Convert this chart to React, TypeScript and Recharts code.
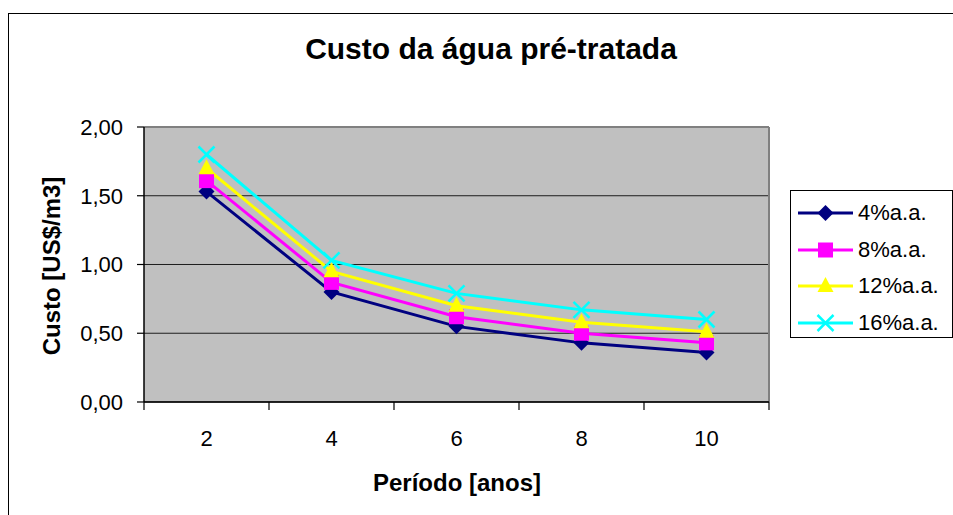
import React from "react";
import { LineChart, Line, XAxis, YAxis, CartesianGrid, ReferenceLine } from "recharts";

const periods = [2, 4, 6, 8, 10];
const cost4 = [1.53, 0.8, 0.55, 0.43, 0.36];
const cost8 = [1.61, 0.87, 0.62, 0.5, 0.43];
const cost12 = [1.7, 0.95, 0.7, 0.58, 0.51];
const cost16 = [1.8, 1.03, 0.79, 0.67, 0.6];
const yTicks = [0, 0.5, 1, 1.5, 2];
const xTicks = [1, 2, 3, 4, 5, 6, 7, 8, 9, 10, 11];

const FONT = "'Liberation Sans', Arial, sans-serif";

const series = [
  { key: "c4", name: "4%a.a.", color: "#000080", marker: "diamond" },
  { key: "c8", name: "8%a.a.", color: "#FF00FF", marker: "square" },
  { key: "c12", name: "12%a.a.", color: "#FFFF00", marker: "triangle" },
  { key: "c16", name: "16%a.a.", color: "#00FFFF", marker: "x" },
];

const data = periods.map((p, i) => ({
  period: p,
  c4: cost4[i],
  c8: cost8[i],
  c12: cost12[i],
  c16: cost16[i],
}));

function Marker({ type, cx, cy, color }: { type: string; cx: number; cy: number; color: string }) {
  if (cx == null || cy == null) return null;
  if (type === "diamond") {
    return <polygon points={`${cx},${cy - 8} ${cx + 8},${cy} ${cx},${cy + 8} ${cx - 8},${cy}`} fill={color} />;
  }
  if (type === "square") {
    return <rect x={cx - 7.5} y={cy - 7.5} width={15} height={15} fill={color} />;
  }
  if (type === "triangle") {
    return <polygon points={`${cx},${cy - 9} ${cx + 8},${cy + 6} ${cx - 8},${cy + 6}`} fill={color} />;
  }
  return (
    <g stroke={color} strokeWidth={2.5}>
      <line x1={cx - 8} y1={cy - 8} x2={cx + 8} y2={cy + 8} />
      <line x1={cx - 8} y1={cy + 8} x2={cx + 8} y2={cy - 8} />
    </g>
  );
}

function XTick(props: any) {
  const { x, y, payload } = props;
  if (payload.value % 2 === 1) {
    return <line x1={x} y1={y} x2={x} y2={y + 8} stroke="#000" strokeWidth={1.2} />;
  }
  return (
    <text x={x} y={y + 44} textAnchor="middle" fontSize={22} fill="#000" fontFamily={FONT}>
      {payload.value}
    </text>
  );
}

function LegendBox() {
  return (
    <div style={{ position: "absolute", left: 790, top: 190, border: "1.5px solid #000", width: 163, height: 148, boxSizing: "border-box", paddingTop: 4, fontFamily: FONT, background: "#fff" }}>
      {series.map((s) => (
        <div key={s.key} style={{ display: "flex", alignItems: "center", height: 36.5 }}>
          <svg width={66} height={24} style={{ flex: "none" }}>
            <line x1={7} y1={12} x2={62} y2={12} stroke={s.color} strokeWidth={3} />
            <Marker type={s.marker} cx={34.5} cy={12} color={s.color} />
          </svg>
          <span style={{ fontSize: 22, color: "#000", marginLeft: 1 }}>{s.name}</span>
        </div>
      ))}
    </div>
  );
}

export default function App() {
  return (
    <div style={{ position: "absolute", left: 0, top: 0, width: 953, height: 515, background: "#fff", overflow: "hidden", fontFamily: FONT }}>
      <div style={{ position: "absolute", left: 8, top: 13, width: 1000, height: 600, border: "1.5px solid #000", boxSizing: "border-box" }} />
      <div style={{ position: "absolute", left: 0, top: 32, width: 982, textAlign: "center", fontSize: 30, fontWeight: "bold", color: "#000" }}>
        Custo da água pré-tratada
      </div>
      <div style={{ position: "absolute", left: 0, top: 0 }}>
        <LineChart width={953} height={515} data={data} margin={{ top: 127, right: 184, bottom: 113, left: 0 }}>
          <CartesianGrid fill="#C0C0C0" vertical={false} stroke="#000" strokeOpacity={0.85} />
          <XAxis
            dataKey="period"
            type="number"
            domain={[1, 11]}
            ticks={xTicks}
            interval={0}
            height={0.01}
            tickSize={0}
            tickMargin={0}
            tickLine={false}
            axisLine={{ stroke: "#000", strokeWidth: 1.5 }}
            tick={<XTick />}
            label={{
              content: () => (
                <text x={457} y={491} textAnchor="middle" fontSize={24} fontWeight="bold" fill="#000" fontFamily={FONT}>
                  Período [anos]
                </text>
              ),
            }}
          />
          <YAxis
            width={144}
            domain={[0, 2]}
            ticks={yTicks}
            interval={0}
            tickSize={7}
            tickMargin={14}
            tickFormatter={(v: number) => v.toFixed(2).replace(".", ",")}
            tick={{ fontSize: 22, fill: "#000", fontFamily: FONT }}
            tickLine={{ stroke: "#000", strokeWidth: 1.2 }}
            axisLine={{ stroke: "#000", strokeWidth: 1.5 }}
            label={{
              content: () => (
                <text x={60} y={266} transform="rotate(-90 60 266)" textAnchor="middle" fontSize={24} fontWeight="bold" fill="#000" fontFamily={FONT}>
                  Custo [US$/m3]
                </text>
              ),
            }}
          />
          <ReferenceLine y={2} stroke="#808080" strokeWidth={2} />
          <ReferenceLine x={11} stroke="#808080" strokeWidth={2} />
          {series.map((s) => (
            <Line
              key={s.key}
              dataKey={s.key}
              name={s.name}
              stroke={s.color}
              strokeWidth={3}
              isAnimationActive={false}
              dot={(p: any) => <Marker key={`${s.key}-${p.index}`} type={s.marker} cx={p.cx} cy={p.cy} color={s.color} />}
              activeDot={false}
            />
          ))}
        </LineChart>
      </div>
      <LegendBox />
    </div>
  );
}
